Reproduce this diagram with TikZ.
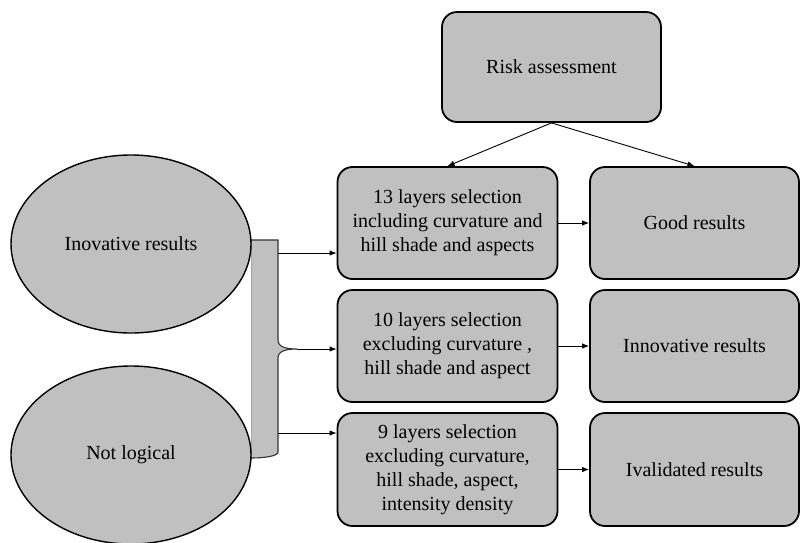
\documentclass[tikz,border=0pt]{standalone}
\usepackage{fontspec}
\setmainfont{LiberationSerif}[Extension=.ttf,UprightFont=*-Regular,BoldFont=*-Bold,ItalicFont=*-Italic,BoldItalicFont=*-BoldItalic]
\usetikzlibrary{arrows.meta,shapes.geometric}
\definecolor{boxgray}{RGB}{192,192,192}
\begin{document}
\begin{tikzpicture}[x=1pt,y=-1pt,
  font=\rmfamily\fontsize{20}{24}\selectfont,
  rbox/.style={draw=black,fill=boxgray,line width=1.8pt,rounded corners=15pt,inner sep=0pt,align=center},
  oval/.style={ellipse,draw=black,fill=boxgray,line width=1.4pt,inner sep=0pt,minimum width=240pt,minimum height=178pt},
  arr/.style={-{Latex[length=7pt,width=5.5pt]},line width=0.9pt}]
\useasboundingbox (0,0) rectangle (800,542);
\begin{scope}
\clip (0,0) rectangle (800,542);
% brace
\fill[boxgray] (251,240) -- (278,240) -- (278,340) .. controls (278,347) and (286,349) .. (297,349) .. controls (286,349) and (278,351) .. (278,358) -- (278,452) .. controls (278,456) and (265,458) .. (251,458) -- cycle;
\draw[gray!70,line width=0.8pt] (251,240) -- (251,458);
\draw[black!80,line width=1.1pt] (251,240) -- (278,240) -- (278,340) .. controls (278,347) and (286,349) .. (297,349) .. controls (286,349) and (278,351) .. (278,358) -- (278,452) .. controls (278,456) and (265,458) .. (251,458);
\coordinate (t1) at (278,253);
\coordinate (tip) at (297,349);
\coordinate (t3) at (278,433);
% ellipses
\node[oval] (e1) at (131,244) {Inovative results};
\node[oval] (e2) at (131,455) {Not logical};
% boxes
\node[rbox,minimum width=219pt,minimum height=110pt] (risk) at (551.5,67) {Risk assessment};
\node[rbox,minimum width=220pt,minimum height=112pt] (b1) at (447.5,223) {13 layers selection\\including curvature and\\hill shade and aspects};
\node[rbox,minimum width=220pt,minimum height=112pt] (b2) at (447.5,346) {10 layers selection\\excluding curvature ,\\hill shade and aspect};
\node[rbox,minimum width=220pt,minimum height=113pt] (b3) at (447.5,469.5) {9 layers selection\\excluding curvature,\\hill shade, aspect,\\intensity density};
\node[rbox,minimum width=209pt,minimum height=112pt] (g1) at (694.5,223) {Good results};
\node[rbox,minimum width=209pt,minimum height=112pt] (g2) at (694.5,346) {Innovative results};
\node[rbox,minimum width=209pt,minimum height=113pt] (g3) at (694.5,469.5) {Ivalidated results};
% connectors
\draw[arr] (risk.south) -- (b1.north);
\draw[arr] (risk.south) -- (g1.north);
\draw[arr] (t1) -- (t1 -| b1.west);
\draw[arr] (tip) -- (tip -| b2.west);
\draw[arr] (t3) -- (t3 -| b3.west);
\draw[arr] (b1.east) -- (g1.west);
\draw[arr] (b2.east) -- (g2.west);
\draw[arr] (b3.east) -- (g3.west);
\end{scope}
\end{tikzpicture}
\end{document}
